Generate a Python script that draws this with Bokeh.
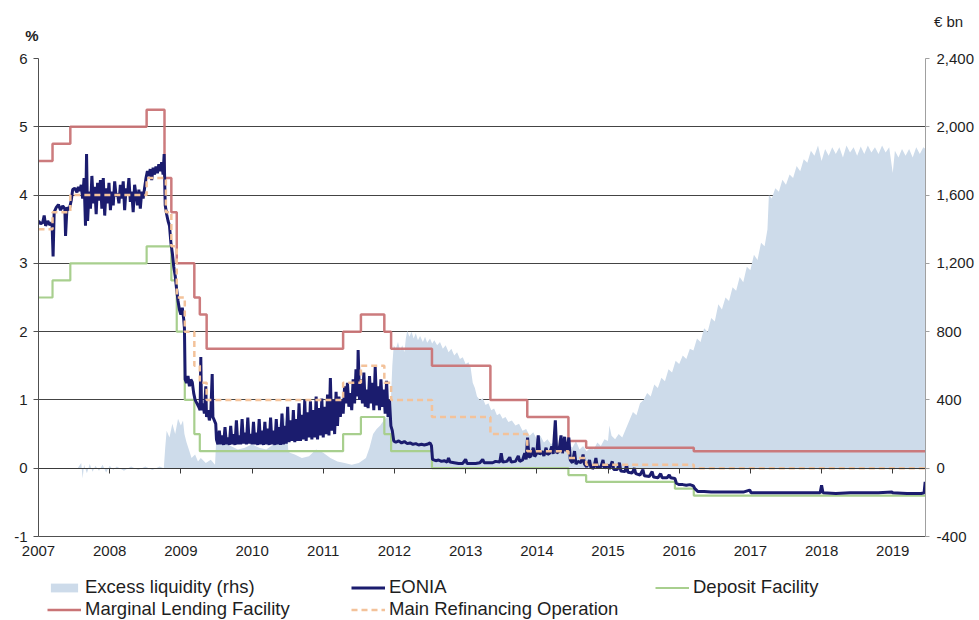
from bokeh.plotting import figure
from bokeh.layouts import column
from bokeh.models import (Range1d, LinearAxis, Legend, LegendItem, FixedTicker,
                          Label, NumeralTickFormatter)
from bokeh.embed import file_html
from bokeh.resources import INLINE

# ---------------- data (decimal years) ----------------
years = list(range(2007, 2020))
pct_ticks = [-1, 0, 1, 2, 3, 4, 5, 6]
bn_ticks = [-400, 0, 400, 800, 1200, 1600, 2000, 2400]
x_end = 2019.46

mro_x = [2007.0, 2007.197, 2007.447, 2008.519, 2008.789, 2008.866, 2008.942, 2009.055, 2009.189,
         2009.266, 2009.362, 2011.279, 2011.529, 2011.858, 2011.953, 2012.527, 2013.348, 2013.866,
         2014.444, 2014.693, 2016.205, 2019.46]
mro_y = [3.50, 3.75, 4.00, 4.25, 3.75, 3.25, 2.50, 2.00, 1.50,
         1.25, 1.00, 1.25, 1.50, 1.25, 1.00, 0.75, 0.50, 0.25,
         0.15, 0.05, 0.00, 0.00]

df_x = [2007.0, 2007.197, 2007.447, 2008.519, 2008.866, 2008.942, 2009.055, 2009.189, 2009.266,
        2011.279, 2011.529, 2011.858, 2011.953, 2012.527, 2014.444, 2014.693, 2015.940, 2016.205,
        2019.46]
df_y = [2.50, 2.75, 3.00, 3.25, 2.75, 2.00, 1.00, 0.50, 0.25,
        0.50, 0.75, 0.50, 0.25, 0.00, -0.10, -0.20, -0.30, -0.40,
        -0.40]

mlf_x = [2007.0, 2007.197, 2007.447, 2008.519, 2008.770, 2008.866, 2008.942, 2009.189, 2009.266,
         2009.362, 2011.279, 2011.529, 2011.858, 2011.953, 2012.527, 2013.348, 2013.866, 2014.444,
         2014.693, 2016.205, 2019.46]
mlf_y = [4.50, 4.75, 5.00, 5.25, 4.25, 3.75, 3.00, 2.50, 2.25,
         1.75, 2.00, 2.25, 2.00, 1.75, 1.50, 1.00, 0.75, 0.40,
         0.30, 0.25, 0.25]

eonia_x = [
    2007.00, 2007.03, 2007.06, 2007.08, 2007.10, 2007.13, 2007.16, 2007.19, 2007.205, 2007.22,
    2007.25, 2007.28, 2007.31, 2007.34, 2007.37, 2007.38, 2007.40, 2007.43, 2007.46, 2007.48,
    2007.51, 2007.54, 2007.56, 2007.58, 2007.60, 2007.62, 2007.64, 2007.66, 2007.675, 2007.69,
    2007.71, 2007.73, 2007.75, 2007.77, 2007.79, 2007.81, 2007.83, 2007.85, 2007.87, 2007.89,
    2007.91, 2007.93, 2007.95, 2007.97, 2007.99, 2008.01, 2008.03, 2008.05, 2008.07, 2008.09,
    2008.11, 2008.13, 2008.15, 2008.17, 2008.19, 2008.21, 2008.23, 2008.25, 2008.27, 2008.29,
    2008.31, 2008.33, 2008.35, 2008.37, 2008.39, 2008.41, 2008.43, 2008.45, 2008.47, 2008.49,
    2008.51, 2008.53, 2008.55, 2008.57, 2008.59, 2008.61, 2008.63, 2008.65, 2008.67, 2008.69,
    2008.71, 2008.73, 2008.75, 2008.765, 2008.78, 2008.80, 2008.82, 2008.84, 2008.86, 2008.88,
    2008.90, 2008.92, 2008.94, 2008.96, 2008.98, 2009.00, 2009.02, 2009.04, 2009.05, 2009.06,
    2009.08, 2009.10, 2009.12, 2009.14, 2009.16, 2009.18, 2009.20, 2009.22, 2009.25, 2009.27,
    2009.28, 2009.29, 2009.31, 2009.33, 2009.35, 2009.36, 2009.38, 2009.40, 2009.42, 2009.44,
    2009.45, 2009.47, 2009.49, 2009.50, 2009.52,
    2009.54, 2009.56, 2009.58, 2009.60, 2009.62, 2009.64, 2009.66, 2009.68, 2009.70, 2009.72,
    2009.74, 2009.76, 2009.78, 2009.80, 2009.82, 2009.84, 2009.86, 2009.88, 2009.90, 2009.92,
    2009.94, 2009.96, 2009.98, 2010.00, 2010.02, 2010.04, 2010.06, 2010.08, 2010.10, 2010.12,
    2010.14, 2010.16, 2010.18, 2010.20, 2010.22, 2010.24, 2010.26, 2010.28, 2010.30, 2010.32,
    2010.34, 2010.36, 2010.38, 2010.40, 2010.42, 2010.44, 2010.46, 2010.48, 2010.50, 2010.52,
    2010.54, 2010.56, 2010.58, 2010.60, 2010.62, 2010.64, 2010.66, 2010.68, 2010.70, 2010.72,
    2010.74, 2010.76, 2010.78, 2010.80, 2010.82, 2010.84, 2010.86, 2010.88, 2010.90, 2010.92,
    2010.94, 2010.96, 2010.98, 2011.00, 2011.02, 2011.04, 2011.06, 2011.08, 2011.10, 2011.12,
    2011.14, 2011.16, 2011.18, 2011.20, 2011.22, 2011.24,
    2011.26, 2011.28, 2011.30, 2011.32, 2011.34, 2011.36, 2011.38, 2011.40, 2011.42, 2011.44,
    2011.46, 2011.48, 2011.49, 2011.51, 2011.53, 2011.55, 2011.57, 2011.59, 2011.61, 2011.63,
    2011.65, 2011.67, 2011.69, 2011.71, 2011.73, 2011.75, 2011.77, 2011.79, 2011.81, 2011.83,
    2011.85, 2011.87, 2011.89, 2011.91, 2011.93, 2011.95, 2011.97, 2011.99,
    2012.02, 2012.06, 2012.10, 2012.14, 2012.18, 2012.22, 2012.26, 2012.30, 2012.34, 2012.38,
    2012.42, 2012.46, 2012.50, 2012.52, 2012.535,
    2012.58, 2012.62, 2012.66, 2012.70, 2012.74, 2012.76, 2012.78, 2012.84, 2012.90, 2012.96,
    2013.00, 2013.02, 2013.08, 2013.14, 2013.20, 2013.24, 2013.26, 2013.32, 2013.38, 2013.42,
    2013.48, 2013.50, 2013.52, 2013.58, 2013.62, 2013.64, 2013.70, 2013.74, 2013.76, 2013.80,
    2013.83, 2013.85, 2013.87, 2013.89, 2013.92, 2013.95, 2013.97, 2014.00, 2014.02, 2014.04,
    2014.07, 2014.10, 2014.13, 2014.15, 2014.18, 2014.21, 2014.23, 2014.26, 2014.28, 2014.31,
    2014.34, 2014.36, 2014.39, 2014.41, 2014.43, 2014.45, 2014.47,
    2014.50, 2014.53, 2014.55, 2014.58, 2014.62, 2014.65, 2014.67, 2014.70, 2014.74, 2014.76,
    2014.80, 2014.83, 2014.85, 2014.90, 2014.93, 2014.95, 2015.00, 2015.02, 2015.06, 2015.08,
    2015.13, 2015.16, 2015.18, 2015.24, 2015.26, 2015.28, 2015.34, 2015.37, 2015.39, 2015.45,
    2015.49, 2015.51, 2015.58, 2015.62, 2015.64, 2015.70, 2015.74, 2015.76, 2015.83, 2015.86,
    2015.88, 2015.94, 2015.96, 2016.00, 2016.05, 2016.10, 2016.15, 2016.20, 2016.22, 2016.26,
    2016.35, 2016.45, 2016.60, 2016.75, 2016.90, 2016.99, 2017.01, 2017.20, 2017.40, 2017.60,
    2017.80, 2017.98, 2018.00, 2018.02, 2018.20, 2018.40, 2018.60, 2018.80, 2018.99, 2019.00,
    2019.20, 2019.40, 2019.44, 2019.455, 2019.46,
]
eonia_y = [
    3.62, 3.58, 3.60, 3.70, 3.55, 3.62, 3.56, 3.60, 3.10, 3.75,
    3.82, 3.86, 3.78, 3.84, 3.80, 3.40, 3.82, 3.78, 3.92, 4.08,
    4.10, 4.04, 4.12, 4.06, 4.15, 3.95, 4.25, 3.55, 4.60, 3.62,
    4.05, 3.80, 4.28, 3.88, 4.12, 3.72, 4.18, 3.92, 4.22, 3.80,
    4.25, 3.70, 4.10, 3.88, 4.18, 3.78, 4.05, 3.85, 4.20, 3.98,
    4.02, 3.88, 4.15, 3.95, 4.20, 3.78, 4.10, 4.00, 4.25, 3.90,
    4.05, 3.75, 4.15, 4.00, 3.85, 4.08, 3.80, 4.05, 3.95, 4.10,
    4.25, 4.35, 4.28, 4.38, 4.22, 4.40, 4.30, 4.42, 4.32, 4.45,
    4.35, 4.48, 4.30, 4.60, 3.85, 3.72, 3.62, 3.55, 3.30, 3.15,
    2.95, 2.82, 2.62, 2.45, 2.32, 2.25, 2.35, 2.18, 2.05, 1.30,
    1.25, 1.35, 1.20, 1.30, 1.26, 1.10, 1.00, 0.96, 0.90, 0.85,
    1.63, 0.85, 0.95, 0.80, 1.20, 0.75, 0.85, 0.70, 0.80, 1.38,
    0.75, 0.70, 0.65, 0.42, 0.35,
    0.55, 0.35, 0.48, 0.34, 0.60, 0.35, 0.45, 0.34, 0.62, 0.35,
    0.50, 0.34, 0.70, 0.35, 0.48, 0.35, 0.72, 0.36, 0.52, 0.35,
    0.74, 0.36, 0.50, 0.35, 0.68, 0.35, 0.52, 0.34, 0.72, 0.35,
    0.55, 0.34, 0.68, 0.35, 0.58, 0.34, 0.74, 0.35, 0.55, 0.34,
    0.72, 0.35, 0.60, 0.34, 0.80, 0.35, 0.62, 0.36, 0.90, 0.38,
    0.70, 0.40, 0.85, 0.38, 0.72, 0.40, 0.95, 0.40, 0.78, 0.42,
    1.00, 0.40, 0.82, 0.45, 0.98, 0.42, 0.85, 0.45, 1.05, 0.42,
    0.88, 0.48, 1.02, 0.45, 0.90, 0.50, 1.08, 0.48, 1.32, 0.55,
    1.00, 0.50, 1.12, 0.62, 1.05, 0.75,
    1.00, 0.80, 1.20, 0.95, 1.25, 0.90, 1.10, 0.85, 1.30, 0.95,
    1.45, 1.05, 1.73, 1.00, 1.30, 0.95, 1.40, 0.90, 1.15, 0.88,
    1.35, 0.95, 1.25, 0.85, 1.48, 0.92, 1.20, 0.85, 1.30, 0.90,
    1.15, 0.80, 1.28, 0.75, 1.00, 0.62, 0.55, 0.40,
    0.38, 0.40, 0.37, 0.39, 0.36, 0.37, 0.35, 0.36, 0.34, 0.35,
    0.34, 0.35, 0.37, 0.33, 0.13,
    0.11, 0.12, 0.10, 0.11, 0.09, 0.15, 0.09, 0.08, 0.07, 0.07,
    0.13, 0.07, 0.07, 0.07, 0.08, 0.13, 0.08, 0.08, 0.08, 0.10,
    0.09, 0.22, 0.09, 0.10, 0.16, 0.09, 0.10, 0.18, 0.10, 0.12,
    0.22, 0.13, 0.45, 0.16, 0.18, 0.30, 0.17, 0.22, 0.48, 0.20,
    0.25, 0.18, 0.30, 0.20, 0.22, 0.32, 0.21, 0.70, 0.22, 0.25,
    0.48, 0.22, 0.46, 0.25, 0.30, 0.45, 0.12,
    0.08, 0.25, 0.06, 0.10, 0.08, 0.20, 0.06, 0.02, 0.12, 0.01,
    0.00, 0.15, 0.01, 0.02, 0.12, 0.00, 0.05, -0.01, 0.10, -0.02,
    -0.02, 0.08, -0.04, -0.05, 0.05, -0.06, -0.07, 0.00, -0.08, -0.10,
    -0.02, -0.11, -0.12, -0.05, -0.13, -0.14, -0.08, -0.14, -0.14, -0.10,
    -0.14, -0.15, -0.22, -0.24, -0.24, -0.25, -0.24, -0.26, -0.30, -0.34,
    -0.34, -0.35, -0.35, -0.35, -0.35, -0.32, -0.36, -0.36, -0.36, -0.36,
    -0.36, -0.36, -0.25, -0.36, -0.37, -0.36, -0.36, -0.36, -0.35, -0.36,
    -0.37, -0.37, -0.36, -0.20, -0.30,
]

liq_x = [
    2007.00, 2007.55, 2007.60, 2007.62, 2007.64, 2007.68, 2007.72, 2007.76, 2007.80, 2007.85,
    2007.90, 2007.95, 2008.00, 2008.05, 2008.10, 2008.20, 2008.30, 2008.40, 2008.50, 2008.60,
    2008.70, 2008.76, 2008.78, 2008.80, 2008.84, 2008.88, 2008.92, 2008.96, 2009.00, 2009.03,
    2009.05, 2009.08, 2009.12, 2009.15, 2009.20, 2009.24, 2009.28, 2009.35, 2009.42, 2009.48,
    2009.50, 2009.52, 2009.60, 2009.70, 2009.80, 2009.90, 2010.00, 2010.10, 2010.20, 2010.30,
    2010.38, 2010.43, 2010.48, 2010.51, 2010.53, 2010.60, 2010.70, 2010.80, 2010.90, 2011.00,
    2011.10, 2011.20, 2011.30, 2011.40, 2011.50, 2011.60, 2011.65, 2011.70, 2011.75, 2011.80,
    2011.85, 2011.90, 2011.95, 2011.97, 2011.99, 2012.02, 2012.05, 2012.08, 2012.11, 2012.14,
    2012.16, 2012.18, 2012.21, 2012.24, 2012.27, 2012.30, 2012.33, 2012.36, 2012.40, 2012.43,
    2012.46, 2012.50, 2012.53, 2012.56, 2012.60, 2012.64, 2012.68, 2012.72, 2012.76, 2012.80,
    2012.84, 2012.88, 2012.92, 2012.96, 2013.00, 2013.04, 2013.07, 2013.10, 2013.13, 2013.16,
    2013.20, 2013.24, 2013.28, 2013.32, 2013.36, 2013.40, 2013.44, 2013.48, 2013.52, 2013.56,
    2013.60, 2013.65, 2013.70, 2013.75, 2013.80, 2013.85, 2013.90, 2013.95, 2014.00, 2014.05,
    2014.10, 2014.15, 2014.20, 2014.25, 2014.30, 2014.35, 2014.40, 2014.45, 2014.50, 2014.55,
    2014.60, 2014.65, 2014.70, 2014.75, 2014.80, 2014.85, 2014.90, 2014.95, 2015.00, 2015.02,
    2015.05, 2015.10, 2015.15, 2015.20, 2015.25, 2015.30, 2015.35, 2015.40, 2015.45, 2015.50,
    2015.55, 2015.60, 2015.65, 2015.70, 2015.75, 2015.80, 2015.85, 2015.90, 2015.95, 2016.00,
    2016.05, 2016.10, 2016.15, 2016.20, 2016.25, 2016.30, 2016.35, 2016.40, 2016.45, 2016.50,
    2016.55, 2016.60, 2016.65, 2016.70, 2016.75, 2016.80, 2016.85, 2016.90, 2016.95, 2017.00,
    2017.05, 2017.10, 2017.15, 2017.20, 2017.24, 2017.26, 2017.30, 2017.35, 2017.40, 2017.45,
    2017.50, 2017.55, 2017.60, 2017.65, 2017.70, 2017.75, 2017.80, 2017.85, 2017.90, 2017.95,
    2018.00, 2018.05, 2018.10, 2018.15, 2018.20, 2018.25, 2018.30, 2018.35, 2018.40, 2018.45,
    2018.50, 2018.55, 2018.60, 2018.65, 2018.70, 2018.75, 2018.80, 2018.85, 2018.90, 2018.95,
    2019.00, 2019.03, 2019.08, 2019.13, 2019.18, 2019.23, 2019.28, 2019.33, 2019.38, 2019.43,
    2019.46,
]
liq_y = [
    0, 0, 30, -60, 20, -30, 25, -20, 15, -15,
    20, -25, 15, -10, 10, -15, 10, -10, 10, -10,
    10, 0, 120, 220, 180, 260, 200, 290, 250, 280,
    200, 150, 100, 60, 80, 40, 60, 30, 50, 20,
    200, 170, 150, 130, 110, 120, 140, 120, 110, 140,
    250, 330, 260, 100, 90, 80, 60, 70, 110, 90,
    60, 40, 30, 20, 30, 60, 120, 200, 230, 250,
    280, 300, 400, 600, 720, 700, 740, 690, 720, 680,
    760, 805, 770, 800, 760, 790, 750, 775, 740, 770,
    735, 760, 730, 750, 720, 740, 700, 720, 680, 700,
    660, 680, 640, 650, 610, 620, 590, 500, 470, 420,
    400, 410, 370, 380, 340, 350, 310, 320, 290, 300,
    270, 280, 250, 260, 220, 230, 190, 210, 170, 190,
    150, 170, 140, 160, 120, 150, 110, 140, 120, 160,
    110, 130, 100, 120, 110, 150, 130, 170, 160, 250,
    190, 170, 200, 180, 230, 280, 330, 310, 380, 400,
    440, 420, 490, 470, 530, 510, 580, 560, 630, 610,
    660, 640, 700, 690, 760, 740, 820, 800, 880, 860,
    960, 930, 1000, 980, 1060, 1040, 1120, 1090, 1180, 1160,
    1250, 1220, 1320, 1300, 1400, 1600, 1580, 1640, 1620, 1690,
    1660, 1720, 1700, 1770, 1740, 1810, 1790, 1860, 1830, 1890,
    1800, 1870, 1830, 1880, 1840, 1880, 1820, 1890, 1850, 1880,
    1830, 1885, 1840, 1890, 1850, 1880, 1840, 1890, 1850, 1880,
    1730, 1860, 1820, 1870, 1830, 1870, 1820, 1880, 1840, 1880,
    1870,
]

legend_labels = ["Excess liquidity (rhs)", "EONIA", "Deposit Facility",
                 "Marginal Lending Facility", "Main Refinancing Operation"]

FONT = "Liberation Sans"
TXT = "#1e1e1e"
C_LIQ, C_MLF, C_DF, C_EON, C_MRO = "#cddbea", "#c97476", "#a8cf8e", "#1b1c6e", "#f3c29a"

# ---------------- main chart ----------------
p = figure(width=979, height=570, output_backend="svg", toolbar_location=None,
           x_range=Range1d(2007, x_end), y_range=Range1d(-1, 6),
           min_border_left=38, min_border_right=54, min_border_top=58, min_border_bottom=34,
           outline_line_color=None, background_fill_color="white", border_fill_color="white")
p.extra_y_ranges = {"bn": Range1d(-400, 2400)}

p.xgrid.visible = False
p.ygrid.ticker = FixedTicker(ticks=[1, 2, 3, 4, 5, 6])
p.ygrid.grid_line_color = "#444444"
p.ygrid.grid_line_width = 1

ya = p.yaxis[0]
ya.ticker = FixedTicker(ticks=pct_ticks)
ya.formatter = NumeralTickFormatter(format="0")
ya.major_tick_out = 5
ya.major_tick_in = 0
ya.minor_tick_out = 0
ya.minor_tick_in = 0
ya.major_label_standoff = 6
ya.axis_line_color = "#505050"
ya.major_tick_line_color = "#505050"
ya.major_label_text_font = FONT
ya.major_label_text_font_size = "15px"
ya.major_label_text_color = TXT

ra = LinearAxis(y_range_name="bn", ticker=FixedTicker(ticks=bn_ticks),
                formatter=NumeralTickFormatter(format="0,0"))
ra.major_tick_out = 4
ra.major_tick_in = 0
ra.minor_tick_out = 0
ra.minor_tick_in = 0
ra.major_label_standoff = 7
ra.axis_line_color = "#a0a0a0"
ra.major_tick_line_color = "#a0a0a0"
ra.major_label_text_font = FONT
ra.major_label_text_font_size = "15px"
ra.major_label_text_color = TXT
p.add_layout(ra, "right")

xa = p.xaxis[0]
xa.ticker = FixedTicker(ticks=years)
xa.major_tick_out = 0
xa.major_tick_in = 0
xa.minor_tick_out = 0
xa.minor_tick_in = 0
xa.major_label_standoff = 9
xa.axis_line_color = "#505050"
xa.major_label_text_font = FONT
xa.major_label_text_font_size = "15px"
xa.major_label_text_color = TXT

za = LinearAxis(fixed_location=0, ticker=FixedTicker(ticks=years))
za.major_tick_out = 5
za.major_tick_in = 0
za.minor_tick_out = 0
za.minor_tick_in = 0
za.major_label_text_font_size = "0px"
za.major_label_text_alpha = 0
za.axis_line_color = "#3a3a3a"
za.axis_line_width = 1.2
za.major_tick_line_color = "#3a3a3a"
p.add_layout(za, "below")

# unit labels in the top margin (screen units, relative to their panel's bottom-left)
p.add_layout(Label(x=-6.5, y=23, x_units="screen", y_units="screen", text="%",
                   text_font=FONT, text_font_size="15px", text_font_style="bold",
                   text_color=TXT, text_align="center", text_baseline="middle"), "above")
p.add_layout(Label(x=910, y=20, x_units="screen", y_units="screen", text="€ bn",
                   text_font=FONT, text_font_size="15px",
                   text_color=TXT, text_align="center", text_baseline="middle"), "above")

p.varea(x=liq_x, y1=0, y2=liq_y, y_range_name="bn", fill_color=C_LIQ, fill_alpha=1.0)
p.step(x=mlf_x, y=mlf_y, mode="after", line_color=C_MLF, line_width=2.5, line_alpha=0.95)
p.step(x=df_x, y=df_y, mode="after", line_color=C_DF, line_width=2.2)
p.line(x=eonia_x, y=eonia_y, line_color=C_EON, line_width=3.0)
p.step(x=mro_x, y=mro_y, mode="after", line_color=C_MRO, line_width=2.5, line_dash="6 4")

# ---------------- legend strip (swatch renderers hold no visible data) ----------------
nan = float("nan")
lg = figure(width=979, height=50, output_backend="svg", toolbar_location=None,
            x_range=Range1d(0, 1), y_range=Range1d(0, 1),
            x_axis_type=None, y_axis_type=None,
            min_border_left=0, min_border_right=0, min_border_top=0, min_border_bottom=0,
            outline_line_color=None, background_fill_color="white", border_fill_color="white")
lg.xgrid.visible = False
lg.ygrid.visible = False
r_liq = lg.varea(x=[nan], y1=[nan], y2=[nan], fill_color=C_LIQ)
r_eon = lg.line(x=[nan], y=[nan], line_color=C_EON, line_width=3.0)
r_df = lg.line(x=[nan], y=[nan], line_color=C_DF, line_width=2.2)
r_mlf = lg.line(x=[nan], y=[nan], line_color=C_MLF, line_width=2.5)
r_mro = lg.line(x=[nan], y=[nan], line_color=C_MRO, line_width=2.5, line_dash="6 4")

legend = Legend(items=[
    LegendItem(label=legend_labels[0], renderers=[r_liq]),
    LegendItem(label=legend_labels[1], renderers=[r_eon]),
    LegendItem(label=legend_labels[2], renderers=[r_df]),
    LegendItem(label=legend_labels[3], renderers=[r_mlf]),
    LegendItem(label=legend_labels[4], renderers=[r_mro]),
], orientation="horizontal", ncols=3, location=(9, 0))
legend.label_text_font = FONT
legend.label_text_font_size = "18.5px"
legend.label_text_color = TXT
legend.glyph_width = 34
legend.glyph_height = 11
legend.label_standoff = 4
legend.label_width = 266
legend.label_height = 18
legend.spacing = 0
legend.padding = 0
legend.margin = 0
legend.border_line_alpha = 0
legend.background_fill_alpha = 0
lg.add_layout(legend, "center")

page = column(p, lg, spacing=0)
open("out.html", "w").write(file_html(page, INLINE))
